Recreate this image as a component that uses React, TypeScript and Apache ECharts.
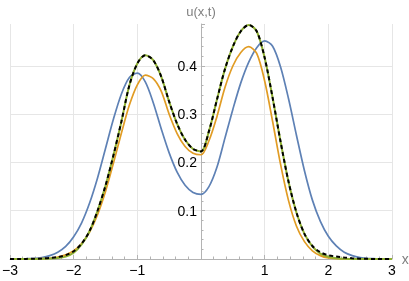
import React, { useEffect, useRef } from "react";
import * as echarts from "echarts";

const xs = [-3, -2.875, -2.75, -2.625, -2.5, -2.375, -2.25, -2.125, -2, -1.875, -1.75, -1.625, -1.5, -1.375, -1.25, -1.125, -1, -0.875, -0.75, -0.625, -0.5, -0.375, -0.25, -0.125, 0, 0.125, 0.25, 0.375, 0.5, 0.625, 0.75, 0.875, 1, 1.125, 1.25, 1.375, 1.5, 1.625, 1.75, 1.875, 2, 2.125, 2.25, 2.375, 2.5, 2.625, 2.75, 2.875, 3];

const blueY = [0, 0, 0.0005, 0.001, 0.003, 0.007, 0.014, 0.026, 0.046, 0.075, 0.116, 0.168, 0.229, 0.29, 0.342, 0.376, 0.385, 0.367, 0.324, 0.27, 0.22, 0.18, 0.153, 0.138, 0.134, 0.15, 0.19, 0.25, 0.31, 0.365, 0.408, 0.438, 0.452, 0.441, 0.398, 0.332, 0.256, 0.183, 0.122, 0.078, 0.047, 0.027, 0.014, 0.007, 0.003, 0.001, 0.0005, 0, 0];

const orangeY = [0, 0, 0, 0.0002, 0.0006, 0.0015, 0.004, 0.0085, 0.017, 0.032, 0.056, 0.092, 0.14, 0.199, 0.261, 0.319, 0.361, 0.381, 0.374, 0.348, 0.3, 0.26, 0.233, 0.219, 0.216, 0.245, 0.295, 0.355, 0.4, 0.428, 0.44, 0.426, 0.369, 0.285, 0.196, 0.121, 0.068, 0.036, 0.017, 0.007, 0.002, 0.0006, 0, 0, 0, 0, 0, 0, 0];

const greenY = [0, 0, 0, 0.0001, 0.0004, 0.001, 0.002, 0.005, 0.013, 0.03, 0.058, 0.1, 0.152, 0.215, 0.285, 0.36, 0.405, 0.422, 0.412, 0.378, 0.326, 0.28, 0.247, 0.228, 0.223, 0.265, 0.33, 0.393, 0.44, 0.472, 0.485, 0.472, 0.417, 0.334, 0.243, 0.16, 0.096, 0.052, 0.026, 0.011, 0.0046, 0.0017, 0.0006, 0, 0, 0, 0, 0, 0];

const dashY = [0, 0, 0.0002, 0.0005, 0.001, 0.002, 0.004, 0.008, 0.016, 0.032, 0.058, 0.1, 0.152, 0.215, 0.285, 0.36, 0.405, 0.422, 0.412, 0.378, 0.326, 0.28, 0.247, 0.228, 0.223, 0.265, 0.33, 0.393, 0.44, 0.472, 0.485, 0.472, 0.417, 0.334, 0.243, 0.16, 0.096, 0.052, 0.027, 0.014, 0.008, 0.005, 0.003, 0.0015, 0.0007, 0.0003, 0, 0, 0];

const xTicks = [-3, -2, -1, 0, 1, 2, 3];
const yTicks = [0.1, 0.2, 0.3, 0.4];

const pairs = (ys: number[]) => xs.map((x, i) => [x, ys[i]]);

const FONT = "'Liberation Sans', Arial, sans-serif";
const AXIS_GRAY = "#b3b3b3";
const GRID_LEFT = 10;
const GRID_RIGHT = 17;
const WIDTH = 409;

export default function App() {
  const ref = useRef<HTMLDivElement>(null);
  useEffect(() => {
    if (!ref.current) return;
    const chart = echarts.init(ref.current, undefined, { renderer: "svg" });
    const plotW = WIDTH - GRID_LEFT - GRID_RIGHT;
    const zeroOffset = -(plotW * (0 - -3)) / 6;
    const line = (data: number[][], color: string, width: number, type: any = "solid") => ({
      type: "line",
      data,
      smooth: 0.3,
      symbol: "none",
      lineStyle: { color, width, type },
      z: 3,
    });
    chart.setOption({
      animation: false,
      grid: { left: GRID_LEFT, right: GRID_RIGHT, top: 24, bottom: 22, containLabel: false, outerBoundsMode: "none" },
      xAxis: {
        type: "value",
        min: -3,
        max: 3,
        interval: 1,
        name: "x",
        nameLocation: "end",
        nameGap: 6,
        nameTextStyle: { color: "#808080", fontSize: 14, fontFamily: FONT, padding: [4, 0, 0, 0] },
        axisLine: { show: true, onZero: false, lineStyle: { color: AXIS_GRAY, width: 1 } },
        axisTick: { show: true, inside: true, length: 4, lineStyle: { color: AXIS_GRAY } },
        minorTick: { show: true, splitNumber: 5, length: 2.5, lineStyle: { color: AXIS_GRAY } },
        axisLabel: {
          margin: 4,
          color: "#000",
          fontSize: 14,
          fontFamily: FONT,
          hideOverlap: false,
          formatter: (v: number) => {
            if (!xTicks.includes(v) || v === 0) return "";
            return v < 0 ? "\u2212" + Math.abs(v) : String(v);
          },
        },
        splitLine: { show: true, lineStyle: { color: "#e6e6e6", width: 1 } },
      },
      yAxis: {
        type: "value",
        min: 0,
        max: 0.487,
        interval: 0.1,
        position: "left",
        offset: zeroOffset,
        name: "u(x,t)",
        nameLocation: "end",
        nameGap: 6,
        nameTextStyle: { color: "#808080", fontSize: 13, fontFamily: FONT, align: "center" },
        axisLine: { show: true, onZero: false, lineStyle: { color: AXIS_GRAY, width: 1 } },
        axisTick: { show: true, inside: true, length: 4, lineStyle: { color: AXIS_GRAY } },
        minorTick: { show: true, splitNumber: 5, length: 2.5, lineStyle: { color: AXIS_GRAY } },
        axisLabel: {
          margin: 4,
          color: "#000",
          fontSize: 14,
          fontFamily: FONT,
          showMaxLabel: false,
          formatter: (v: number) => {
            const t = yTicks.find((k) => Math.abs(k - v) < 1e-6);
            return t !== undefined ? t.toFixed(1) : "";
          },
        },
        splitLine: { show: true, showMaxLine: false, showMinLine: false, lineStyle: { color: "#e6e6e6", width: 1 } },
      },
      series: [
        line(pairs(blueY), "#5E81B5", 1.7),
        line(pairs(orangeY), "#E19C24", 1.7),
        line(pairs(greenY), "#8FB032", 2),
        line(pairs(dashY), "#000000", 2, [4, 3]),
      ],
    });
    return () => chart.dispose();
  }, []);
  return <div ref={ref} style={{ position: "fixed", left: 0, top: 0, width: 409, height: 281 }} />;
}
